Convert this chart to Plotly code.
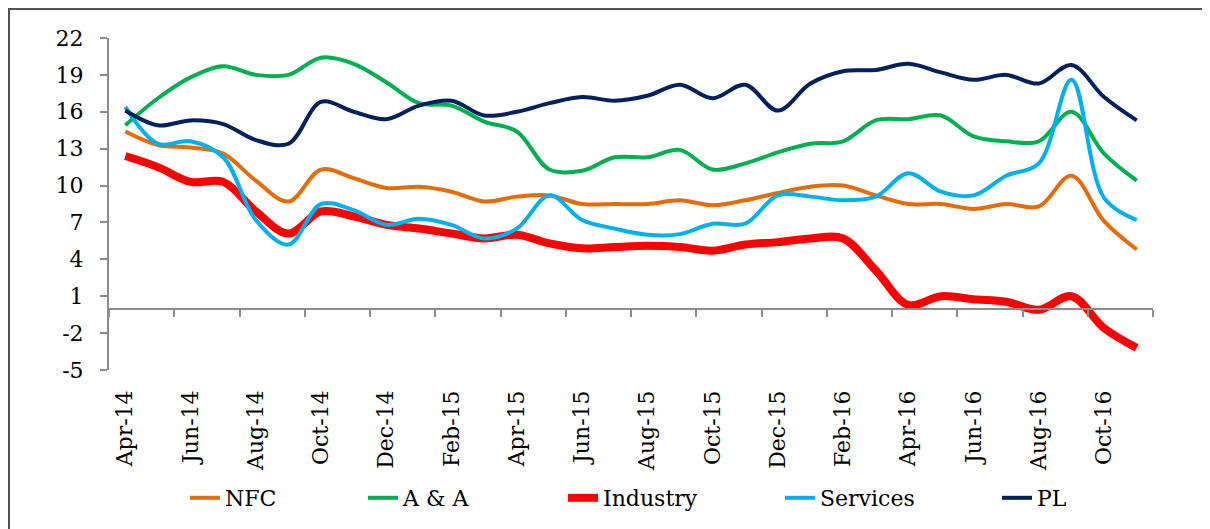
import plotly.graph_objects as go

months = ["Apr-14","May-14","Jun-14","Jul-14","Aug-14","Sep-14","Oct-14","Nov-14","Dec-14",
          "Jan-15","Feb-15","Mar-15","Apr-15","May-15","Jun-15","Jul-15","Aug-15","Sep-15",
          "Oct-15","Nov-15","Dec-15","Jan-16","Feb-16","Mar-16","Apr-16","May-16","Jun-16",
          "Jul-16","Aug-16","Sep-16","Oct-16","Nov-16"]

nfc = [14.4,13.3,13.1,12.6,10.4,8.7,11.3,10.6,9.8,9.9,9.5,8.7,
       9.1,9.2,8.5,8.5,8.5,8.8,8.4,8.8,9.4,9.9,10.0,9.2,
       8.5,8.5,8.1,8.5,8.3,10.8,7.1,4.8]
aa = [14.9,17.1,18.8,19.7,19.0,19.0,20.4,19.9,18.4,16.7,16.5,15.2,
      14.4,11.3,11.2,12.3,12.3,12.9,11.3,11.8,12.7,13.4,13.6,15.3,
      15.4,15.7,14.0,13.6,13.6,16.0,12.6,10.4]
industry = [12.4,11.5,10.3,10.3,7.9,6.1,7.9,7.5,6.8,6.5,6.1,5.7,
            6.0,5.3,4.9,5.0,5.1,5.0,4.7,5.2,5.4,5.7,5.7,3.1,
            0.3,1.0,0.75,0.55,-0.1,1.0,-1.6,-3.2]
services = [16.4,13.4,13.6,12.3,7.2,5.2,8.5,8.0,6.8,7.3,6.8,5.7,
            6.5,9.2,7.2,6.5,6.0,6.05,6.9,6.9,9.2,9.1,8.8,9.1,
            11.0,9.5,9.2,10.8,11.8,18.6,9.0,7.2]
pl = [16.1,14.9,15.3,15.0,13.7,13.4,16.8,16.0,15.4,16.5,16.9,15.7,
      16.0,16.7,17.2,16.9,17.3,18.2,17.1,18.2,16.1,18.3,19.3,19.4,
      19.9,19.2,18.6,19.0,18.3,19.8,17.2,15.3]

series_names = ["NFC", "A & A", "Industry", "Services", "PL"]
series_values = [nfc, aa, industry, services, pl]
series_colors = ["#E46C0A", "#00B050", "#FF0000", "#00B0F0", "#002060"]
series_widths = [4, 4, 8, 4, 4]
legend_ids = ["legend", "legend2", "legend3", "legend4", "legend5"]
# legend text start positions in screen pixels
legend_text_px = [225, 403, 603, 820, 1037]

y_ticks = list(range(-5, 23, 3))
y_ticktext = [str(v) for v in y_ticks]

FONT = "DejaVu Serif"
FS = 22
AXIS = "#8c8c8c"

# page body has an 8px margin: design figure coords = screen coords - 8
OFF = 8
PL_LEFT, PL_RIGHT, PL_TOP, PL_BOTTOM = 109 - OFF, 1153 - OFF, 38 - OFF, 370 - OFF
W, H = 1210, 529
pw = PL_RIGHT - PL_LEFT
ph = PL_BOTTOM - PL_TOP

idx = list(range(len(months)))
fig = go.Figure()
for name, vals, col, w, lg in zip(series_names, series_values, series_colors, series_widths, legend_ids):
    fig.add_trace(go.Scatter(x=idx, y=vals, name=name, mode="lines", legend=lg,
                             line=dict(color=col, width=w, shape="spline", smoothing=1.0),
                             hoverinfo="skip"))
# helper trace to host the zero-crossing category axis
fig.add_trace(go.Scatter(x=[None], y=[None], xaxis="x2", yaxis="y", showlegend=False,
                         hoverinfo="skip"))

n = len(months)
legend_layout = {}
for lg, tx in zip(legend_ids, legend_text_px):
    legend_layout[lg] = dict(
        x=((tx - OFF) - 40 - PL_LEFT) / pw, xanchor="left",
        y=(PL_BOTTOM - (498 - OFF)) / ph, yanchor="middle",
        orientation="h", bgcolor="rgba(0,0,0,0)",
        font=dict(family=FONT, size=FS, color="#000000"))

fig.update_layout(
    width=W, height=H, autosize=False,
    margin=dict(l=PL_LEFT, r=W - PL_RIGHT, t=PL_TOP, b=H - PL_BOTTOM, autoexpand=False),
    paper_bgcolor="white", plot_bgcolor="white",
    font=dict(family=FONT, size=FS, color="#000000"),
    showlegend=True,
    xaxis=dict(range=[-0.5, n - 0.5], tickmode="array",
               tickvals=idx[::2], ticktext=months[::2], tickangle=-90,
               showline=False, ticks="", showgrid=False, zeroline=False,
               ticklabelstandoff=15,
               tickfont=dict(family=FONT, size=FS, color="#000000")),
    xaxis2=dict(overlaying="x", anchor="free", position=5/27,
                range=[-0.5, n - 0.5], tickmode="array",
                tickvals=[i - 0.5 for i in range(0, n + 1, 2)],
                ticks="outside", ticklen=7, tickwidth=2, tickcolor=AXIS,
                showline=True, linecolor=AXIS, linewidth=2,
                showticklabels=False, showgrid=False, zeroline=False),
    yaxis=dict(range=[-5, 22], tickmode="array", tickvals=y_ticks, ticktext=y_ticktext,
               ticks="outside", ticklen=7, tickwidth=2, tickcolor=AXIS,
               showline=True, linecolor=AXIS, linewidth=2,
               showgrid=False, zeroline=False, ticklabelstandoff=12,
               tickfont=dict(family=FONT, size=FS, color="#000000")),
    **legend_layout,
)

# outer chart frame (left edge kept just inside the figure)
fig.add_shape(type="rect", xref="paper", yref="paper",
              x0=(1 - PL_LEFT) / pw, x1=1.3, y0=-0.8, y1=(PL_BOTTOM - 1) / ph,
              line=dict(color="#505050", width=2), fillcolor="rgba(0,0,0,0)", layer="below")

fig.write_html("out.html")
